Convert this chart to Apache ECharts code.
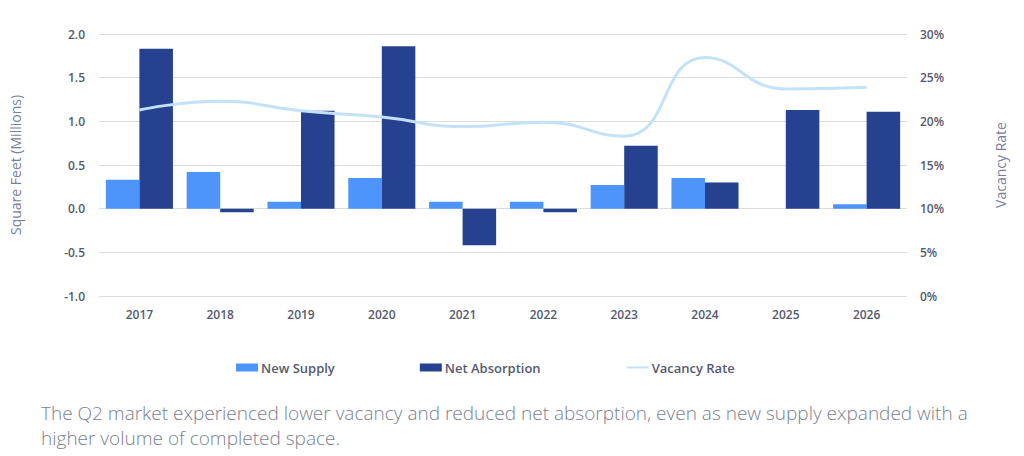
<!DOCTYPE html>
<html>
<head>
<meta charset="utf-8">
<script src="https://cdn.jsdelivr.net/npm/echarts@6/dist/echarts.min.js"></script>
<style>
  html, body { margin: 0; padding: 0; background: #fff; }
  #main { width: 1024px; height: 456px; }
</style>
</head>
<body>
<div id="main"></div>
<script type="text/javascript">
  // 数据
  var years = ['2017', '2018', '2019', '2020', '2021', '2022', '2023', '2024', '2025', '2026'];
  var newSupply = [0.33, 0.42, 0.08, 0.35, 0.08, 0.08, 0.27, 0.35, 0, 0.05];
  var netAbsorption = [1.83, -0.04, 1.12, 1.86, -0.42, -0.04, 0.72, 0.30, 1.13, 1.11];
  var vacancyRate = [21.3, 22.3, 21.2, 20.5, 19.4, 19.9, 18.3, 27.3, 23.7, 23.9];

  var caption = 'The Q2 market experienced lower vacancy and reduced net absorption, even as new supply expanded with a\nhigher volume of completed space.';

  var chart = echarts.init(document.getElementById('main'), null, {
    renderer: 'svg'
  });

  var axisText = {
    color: '#55596e',
    fontFamily: 'Open Sans',
    fontSize: 12,
    fontWeight: 600
  };

  chart.setOption({
    animation: false,
    textStyle: { fontFamily: 'Open Sans' },
    title: {
      text: caption,
      left: 36,
      top: 395,
      textStyle: {
        color: '#7b7f90',
        fontFamily: 'Open Sans',
        fontSize: 19,
        fontWeight: 300,
        lineHeight: 25
      }
    },
    legend: {
      left: 231,
      top: 356,
      itemGap: 85,
      itemWidth: 22,
      itemHeight: 8,
      textStyle: {
        color: '#55596e',
        fontFamily: 'Open Sans',
        fontSize: 13,
        fontWeight: 600,
        padding: [0, 0, 0, -2]
      },
      data: [
        { name: 'New Supply', icon: 'rect' },
        { name: 'Net Absorption', icon: 'rect' },
        { name: 'Vacancy Rate', itemStyle: { opacity: 0 } }
      ]
    },
    grid: {
      left: 99,
      right: 117,
      top: 34,
      bottom: 160
    },
    xAxis: {
      type: 'category',
      data: years,
      axisLine: { show: false, onZero: false },
      axisTick: { show: false },
      axisLabel: Object.assign({ margin: 12 }, axisText)
    },
    yAxis: [{
      type: 'value',
      min: -1,
      max: 2,
      interval: 0.5,
      name: 'Square Feet (Millions)',
      nameLocation: 'middle',
      nameRotate: 90,
      nameGap: 77,
      nameTextStyle: { color: '#7a8099', fontFamily: 'Open Sans', fontSize: 14 },
      axisLine: { show: false },
      axisTick: { show: false },
      axisLabel: Object.assign({
        margin: 14,
        formatter: function(v) { return v.toFixed(1); }
      }, axisText),
      splitLine: { lineStyle: { color: '#dcdcdc', width: 1 } }
    }, {
      type: 'value',
      min: 0,
      max: 30,
      interval: 5,
      name: 'Vacancy Rate',
      nameLocation: 'middle',
      nameRotate: 90,
      nameGap: 86,
      nameTextStyle: { color: '#7a8099', fontFamily: 'Open Sans', fontSize: 14 },
      axisLine: { show: false },
      axisTick: { show: false },
      axisLabel: Object.assign({ margin: 13, formatter: '{value}%' }, axisText),
      splitLine: { show: false }
    }],
    series: [{
      name: 'New Supply',
      type: 'bar',
      data: newSupply,
      barGap: '0%',
      barCategoryGap: '17%',
      itemStyle: { color: '#4d94fb' }
    }, {
      name: 'Net Absorption',
      type: 'bar',
      data: netAbsorption,
      itemStyle: { color: '#25418f' }
    }, {
      name: 'Vacancy Rate',
      type: 'line',
      yAxisIndex: 1,
      smooth: 0.5,
      symbol: 'none',
      data: vacancyRate,
      lineStyle: { color: '#c3e2f8', width: 3 },
      itemStyle: { color: '#c3e2f8' },
      z: 5
    }]
  });
</script>
</body>
</html>
